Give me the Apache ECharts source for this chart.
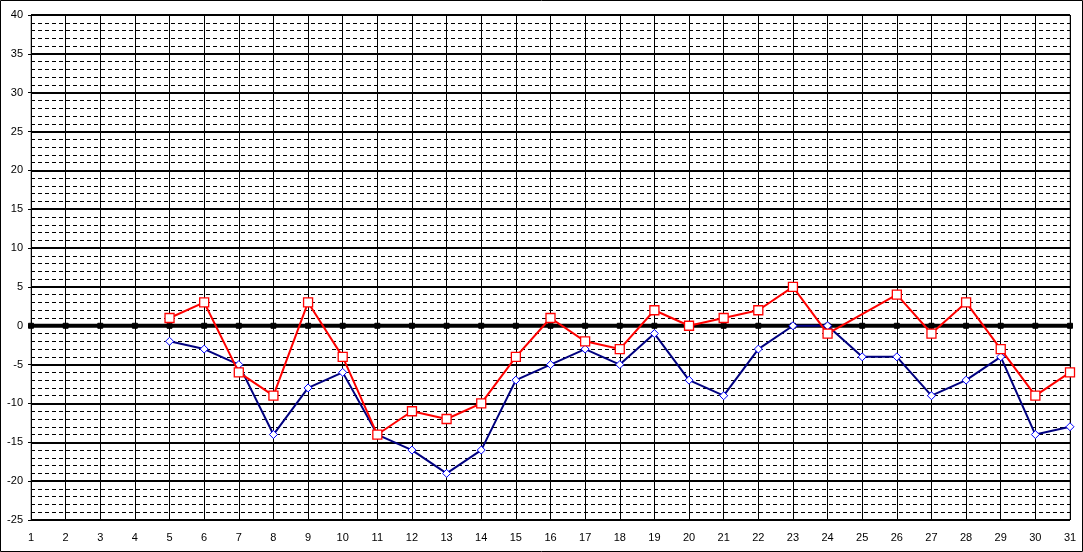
<!DOCTYPE html>
<html><head><meta charset="utf-8">
<script src="https://cdn.jsdelivr.net/npm/echarts@6/dist/echarts.min.js"></script>
<style>html,body{margin:0;padding:0;background:#fff}#c{width:1083px;height:552px}</style>
</head><body><div id="c"></div>
<script>
const days = ['1','2','3','4','5','6','7','8','9','10','11','12','13','14','15','16','17','18','19','20','21','22','23','24','25','26','27','28','29','30','31'];
const redSeries = [null,null,null,null,1,3,-6,-9,3,-4,-14,-11,-12,-10,-4,1,-2,-3,2,0,1,2,5,-1,null,4,-1,3,-3,-9,-6];
const blueSeries = [null,null,null,null,-2,-3,-5,-14,-8,-6,-14,-16,-19,-16,-7,-5,-3,-5,-1,-7,-9,-3,0,0,-4,-4,-9,-7,-4,-14,-13];
const zeroSeries = [0,0,0,0,0,0,0,0,0,0,0,0,0,0,0,0,0,0,0,0,0,0,0,0,0,0,0,0,0,0,0];
const yMin = -25, yMax = 40, yStep = 5;

const chart = echarts.init(document.getElementById('c'), null, {renderer:'canvas'});
const font = 'Liberation Sans';
chart.setOption({
  animation: false,
  backgroundColor: '#fff',
  textStyle: {fontFamily: font},
  graphic: [{type:'rect', shape:{x:0.5,y:0.5,width:1082,height:551}, style:{fill:'none',stroke:'#000',lineWidth:1}, z:100}],
  grid: {left:31, right:13, top:15, bottom:32, show:true, borderColor:'#808080', borderWidth:1},
  xAxis: {
    type:'category', data: days, boundaryGap:false,
    axisLine:{show:true, lineStyle:{color:'#808080', width:1}},
    axisTick:{show:false},
    axisLabel:{color:'#000', fontSize:11, margin:12, fontFamily:font, interval:0},
    splitLine:{show:true, interval:0, lineStyle:{color:'#000', width:1}}
  },
  yAxis: {
    type:'value', min:yMin, max:yMax, interval:yStep,
    axisLine:{show:true, lineStyle:{color:'#000', width:1}},
    axisTick:{show:true, length:3, lineStyle:{color:'#000'}},
    axisLabel:{color:'#000', fontSize:11, margin:8, fontFamily:font},
    splitLine:{show:true, lineStyle:{color:'#000', width:2}},
    minorTick:{show:false, splitNumber:5},
    minorSplitLine:{show:true, lineStyle:{color:'#000', width:1, type:[4,3]}}
  },
  series: [
    {type:'line', data: zeroSeries, symbol:'rect', symbolSize:5, showAllSymbol:true,
      lineStyle:{color:'#000', width:4}, itemStyle:{color:'#000', borderColor:'#000'}, z:2},
    {type:'line', data: blueSeries, connectNulls:true, symbol:'diamond', symbolSize:8, showAllSymbol:true,
      lineStyle:{color:'#000080', width:2}, itemStyle:{color:'#fff', borderColor:'#0000ff', borderWidth:1}, z:3},
    {type:'line', data: redSeries, connectNulls:true, symbol:'rect', symbolSize:9, showAllSymbol:true,
      lineStyle:{color:'#ff0000', width:2}, itemStyle:{color:'#fff', borderColor:'#ff0000', borderWidth:1.3}, z:4}
  ]
});
</script></body></html>
